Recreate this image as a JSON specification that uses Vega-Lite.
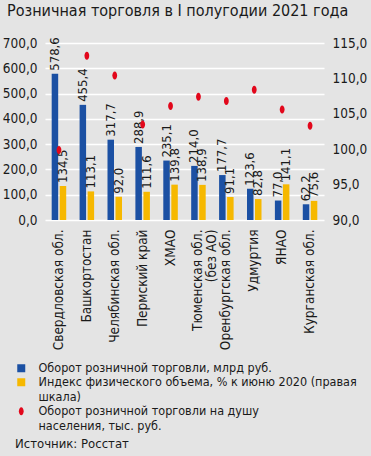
{
  "$schema": "https://vega.github.io/schema/vega-lite/v6.json",
  "width": 279,
  "height": 177,
  "autosize": {"type": "none"},
  "padding": {"left": 45, "top": 43, "right": 47, "bottom": 236},
  "background": "#e4e4e4",
  "config": {
    "locale": {"number": {"decimal": ",", "thousands": " ", "grouping": [3], "currency": ["", ""]}},
    "font": "DejaVu Sans Condensed, Roboto Condensed, Roboto",
    "view": {"stroke": null}
  },
  "title": {
    "text": "Розничная торговля в I полугодии 2021 года",
    "anchor": "start",
    "frame": "group",
    "fontSize": 16,
    "fontWeight": "normal",
    "color": "#1a1a1a",
    "font": "DejaVu Sans Condensed, Roboto Condensed, Roboto",
    "dx": -38,
    "offset": 17
  },
  "datasets": {
    "bars": [
      {"r": "Свердловская обл.", "s": "Оборот розничной торговли, млрд руб.", "v": 578.6},
      {"r": "Свердловская обл.", "s": "Индекс физического объема, % к июню 2020 (правая шкала)", "v": 134.5},
      {"r": "Башкортостан", "s": "Оборот розничной торговли, млрд руб.", "v": 455.4},
      {"r": "Башкортостан", "s": "Индекс физического объема, % к июню 2020 (правая шкала)", "v": 113.1},
      {"r": "Челябинская обл.", "s": "Оборот розничной торговли, млрд руб.", "v": 317.7},
      {"r": "Челябинская обл.", "s": "Индекс физического объема, % к июню 2020 (правая шкала)", "v": 92.0},
      {"r": "Пермский край", "s": "Оборот розничной торговли, млрд руб.", "v": 288.9},
      {"r": "Пермский край", "s": "Индекс физического объема, % к июню 2020 (правая шкала)", "v": 111.6},
      {"r": "ХМАО", "s": "Оборот розничной торговли, млрд руб.", "v": 235.1},
      {"r": "ХМАО", "s": "Индекс физического объема, % к июню 2020 (правая шкала)", "v": 139.8},
      {"r": "Тюменская обл. (без АО)", "s": "Оборот розничной торговли, млрд руб.", "v": 214.0},
      {"r": "Тюменская обл. (без АО)", "s": "Индекс физического объема, % к июню 2020 (правая шкала)", "v": 138.9},
      {"r": "Оренбургская обл.", "s": "Оборот розничной торговли, млрд руб.", "v": 177.7},
      {"r": "Оренбургская обл.", "s": "Индекс физического объема, % к июню 2020 (правая шкала)", "v": 91.1},
      {"r": "Удмуртия", "s": "Оборот розничной торговли, млрд руб.", "v": 123.6},
      {"r": "Удмуртия", "s": "Индекс физического объема, % к июню 2020 (правая шкала)", "v": 82.8},
      {"r": "ЯНАО", "s": "Оборот розничной торговли, млрд руб.", "v": 77.0},
      {"r": "ЯНАО", "s": "Индекс физического объема, % к июню 2020 (правая шкала)", "v": 141.1},
      {"r": "Курганская обл.", "s": "Оборот розничной торговли, млрд руб.", "v": 62.2},
      {"r": "Курганская обл.", "s": "Индекс физического объема, % к июню 2020 (правая шкала)", "v": 75.6}
    ],
    "dots": [
      {"r": "Свердловская обл.", "s": "Оборот розничной торговли на душу населения, тыс. руб.", "v": 99.9},
      {"r": "Башкортостан", "s": "Оборот розничной торговли на душу населения, тыс. руб.", "v": 113.2},
      {"r": "Челябинская обл.", "s": "Оборот розничной торговли на душу населения, тыс. руб.", "v": 110.4},
      {"r": "Пермский край", "s": "Оборот розничной торговли на душу населения, тыс. руб.", "v": 103.5},
      {"r": "ХМАО", "s": "Оборот розничной торговли на душу населения, тыс. руб.", "v": 106.1},
      {"r": "Тюменская обл. (без АО)", "s": "Оборот розничной торговли на душу населения, тыс. руб.", "v": 107.4},
      {"r": "Оренбургская обл.", "s": "Оборот розничной торговли на душу населения, тыс. руб.", "v": 106.8},
      {"r": "Удмуртия", "s": "Оборот розничной торговли на душу населения, тыс. руб.", "v": 108.4},
      {"r": "ЯНАО", "s": "Оборот розничной торговли на душу населения, тыс. руб.", "v": 105.6},
      {"r": "Курганская обл.", "s": "Оборот розничной торговли на душу населения, тыс. руб.", "v": 103.3}
    ]
  },
  "layer": [
    {
      "data": {"name": "bars"},
      "encoding": {
        "x": {
          "field": "r", "type": "nominal", "sort": null,
          "scale": {"paddingInner": 0, "paddingOuter": 0},
          "axis": {
            "title": null, "labelAngle": 270, "labelAlign": "right", "labelBaseline": "middle",
            "labelFontSize": 13.5, "labelColor": "#1a1a1a", "labelPadding": 9, "labelLimit": 0,
            "ticks": false, "domain": false, "labelLineHeight": 14,
            "labelExpr": "datum.value == 'Тюменская обл. (без АО)' ? ['Тюменская обл.', '(без АО)'] : datum.value"
          }
        },
        "xOffset": {"field": "s", "type": "nominal", "sort": null, "scale": {"paddingInner": 0, "paddingOuter": 0.74}},
        "y": {
          "field": "v", "type": "quantitative",
          "scale": {"domain": [0, 700]},
          "axis": {
            "title": null, "values": [0, 100, 200, 300, 400, 500, 600, 700], "format": ".1f",
            "labelFontSize": 13.5, "labelColor": "#1a1a1a", "labelPadding": 8,
            "ticks": false, "domain": false, "grid": true, "gridColor": "#ffffff", "gridWidth": 1.5
          }
        }
      },
      "layer": [
        {
          "mark": {"type": "bar", "width": 6.5},
          "encoding": {
            "color": {
              "field": "s", "type": "nominal",
              "scale": {
                "domain": ["Оборот розничной торговли, млрд руб.", "Индекс физического объема, % к июню 2020 (правая шкала)", "Оборот розничной торговли на душу населения, тыс. руб."],
                "range": ["#1b50a3", "#f6b800", "#e2071b"]
              },
              "legend": {
                "title": "Источник: Росстат",
                "orient": "none", "legendX": -30, "legendY": 319,
                "direction": "vertical",
                "titleOrient": "bottom", "titleAnchor": "start", "titleFontSize": 13,
                "titleFontWeight": "normal", "titleColor": "#1a1a1a", "titlePadding": 6,
                "labelFontSize": 12.5, "labelColor": "#1a1a1a", "labelLimit": 0, "labelLineHeight": 14,
                "labelOffset": 11,
                "symbolSize": 64, "rowPadding": 1,
                "labelExpr": "datum.label == 'Индекс физического объема, % к июню 2020 (правая шкала)' ? ['Индекс физического объема, % к июню 2020 (правая', 'шкала)'] : datum.label == 'Оборот розничной торговли на душу населения, тыс. руб.' ? ['Оборот розничной торговли на душу', 'населения, тыс. руб.'] : datum.label"
              }
            }
          }
        },
        {
          "mark": {"type": "text", "angle": 270, "align": "left", "baseline": "middle", "dx": 3, "fontSize": 13, "color": "#1a1a1a"},
          "encoding": {
            "text": {"field": "v", "type": "quantitative", "format": ".1f"}
          }
        }
      ]
    },
    {
      "data": {"name": "dots"},
      "mark": {"type": "point", "filled": true, "size": 64, "opacity": 1},
      "encoding": {
        "x": {"field": "r", "type": "nominal", "sort": null},
        "y": {
          "field": "v", "type": "quantitative",
          "scale": {"domain": [90, 115]},
          "axis": {
            "title": null, "orient": "right", "values": [90, 95, 100, 105, 110, 115], "format": ".1f",
            "labelFontSize": 13.5, "labelColor": "#1a1a1a", "labelPadding": 8,
            "ticks": false, "domain": false, "grid": false
          }
        },
        "color": {"field": "s", "type": "nominal"},
        "shape": {
          "field": "s", "type": "nominal",
          "scale": {
            "domain": ["Оборот розничной торговли, млрд руб.", "Индекс физического объема, % к июню 2020 (правая шкала)", "Оборот розничной торговли на душу населения, тыс. руб."],
            "range": ["square", "square", "M0,-1A0.6,1,0,1,1,0,1A0.6,1,0,1,1,0,-1Z"]
          }
        }
      }
    }
  ],
  "resolve": {"scale": {"y": "independent"}}
}
